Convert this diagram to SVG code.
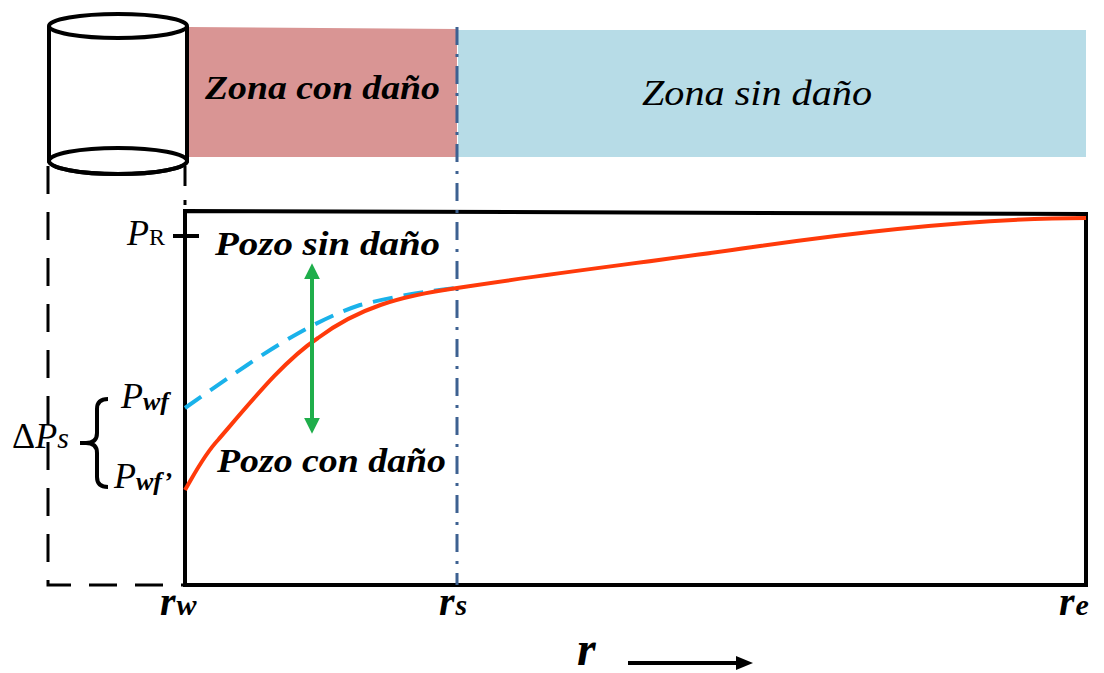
<svg xmlns="http://www.w3.org/2000/svg" width="1104" height="673" viewBox="0 0 1104 673">
<style>
text{font-family:'Liberation Serif','DejaVu Serif',serif;font-style:italic;fill:#000}
.b{font-weight:bold}
.ln{fill:none;stroke:#000;stroke-width:4}
</style>
<defs>
<marker id="ga" viewBox="0 0 10 10" refX="2" refY="5" markerWidth="4" markerHeight="4" orient="auto-start-reverse" markerUnits="strokeWidth"><path d="M0,0 L10,5 L0,10 Z" fill="#1fae4b"/></marker>
</defs>
<rect width="1104" height="673" fill="#fff"/>
<g id="zona-con">
<polygon points="188,27 457,29 457,157 188,157" fill="#d99594"/>
<text class="b" x="205" y="99" font-size="34" textLength="235" lengthAdjust="spacingAndGlyphs">Zona con daño</text>
</g>
<g id="zona-sin">
<rect x="458" y="30" width="628" height="127" fill="#b7dce7"/>
<text x="642" y="105" font-size="35" textLength="230" lengthAdjust="spacingAndGlyphs">Zona sin daño</text>
</g>
<g id="pozo">
<path d="M49,26 V161 A69,13 0 0 0 187,161 V26" fill="#fff" stroke="#000" stroke-width="4"/>
<ellipse cx="118" cy="26" rx="69" ry="12" fill="#fff" stroke="#000" stroke-width="4"/>
<ellipse cx="118" cy="161" rx="69" ry="13" fill="none" stroke="#000" stroke-width="4"/>
<path d="M48,166 V585 H185" fill="none" stroke="#000" stroke-width="3" stroke-dasharray="28 18"/>
<line x1="185" y1="166" x2="185" y2="186" stroke="#000" stroke-width="3"/>
<line x1="185" y1="200" x2="185" y2="205" stroke="#000" stroke-width="3"/>
</g>
<g id="grafico">
<path class="ln" d="M185,211 L1086,214 L1086,585 L185,585 Z"/>
<line x1="173" y1="236" x2="199" y2="236" stroke="#000" stroke-width="4"/>
</g>
<g id="connectors">
<line x1="457" y1="27" x2="457" y2="585" stroke="#3d6191" stroke-width="3" stroke-dasharray="18 9 3 9"/>
<path d="M185,408 C240,370 300,325 360,305 C400,295 430,291 457,288" fill="none" stroke="#1ab2ea" stroke-width="4" stroke-dasharray="20 11"/>
<path d="M185,490 C195,473 204,455 218,440 C255,397 285,360 318,338 C358,308 400,296 457,288 C560,272 650,262 760,246 C900,226 1000,218 1086,218" fill="none" stroke="#ff3a0a" stroke-width="4"/>
<line x1="312" y1="276" x2="312" y2="421" stroke="#1fae4b" stroke-width="4" marker-start="url(#ga)" marker-end="url(#ga)"/>
<path d="M108,399 Q97,399 97,409 L97,433 Q97,443 86,443 Q97,443 97,453 L97,477 Q97,487 108,487" fill="none" stroke="#000" stroke-width="4"/>
<line x1="80" y1="443" x2="90" y2="443" stroke="#000" stroke-width="4"/>
<line x1="628" y1="663" x2="738" y2="663" stroke="#000" stroke-width="4"/>
<polygon points="736,656 753,663 736,670" fill="#000"/>
</g>
<g id="labels">
<text class="b" x="215" y="255" font-size="34" textLength="225" lengthAdjust="spacingAndGlyphs">Pozo sin daño</text>
<text class="b" x="217" y="472" font-size="34" textLength="229" lengthAdjust="spacingAndGlyphs">Pozo con daño</text>
<text x="127" y="245" font-size="36">P<tspan font-size="24" font-style="normal">R</tspan></text>
<text x="121" y="408" font-size="36">P<tspan font-size="26" class="b" dy="2">wf</tspan></text>
<text x="114" y="488" font-size="36">P<tspan font-size="26" class="b" dy="2">wf’</tspan></text>
<text x="12" y="448" font-size="36"><tspan font-style="normal">Δ</tspan>P<tspan font-size="30">s</tspan></text>
<text class="b" x="160" y="615" font-size="40">r<tspan font-size="30" dx="1">w</tspan></text>
<text class="b" x="439" y="615" font-size="40">r<tspan font-size="30" dx="1">s</tspan></text>
<text class="b" x="1059" y="615" font-size="40">r<tspan font-size="30" dx="1">e</tspan></text>
<text class="b" x="577" y="665" font-size="48">r</text>
</g>
</svg>
